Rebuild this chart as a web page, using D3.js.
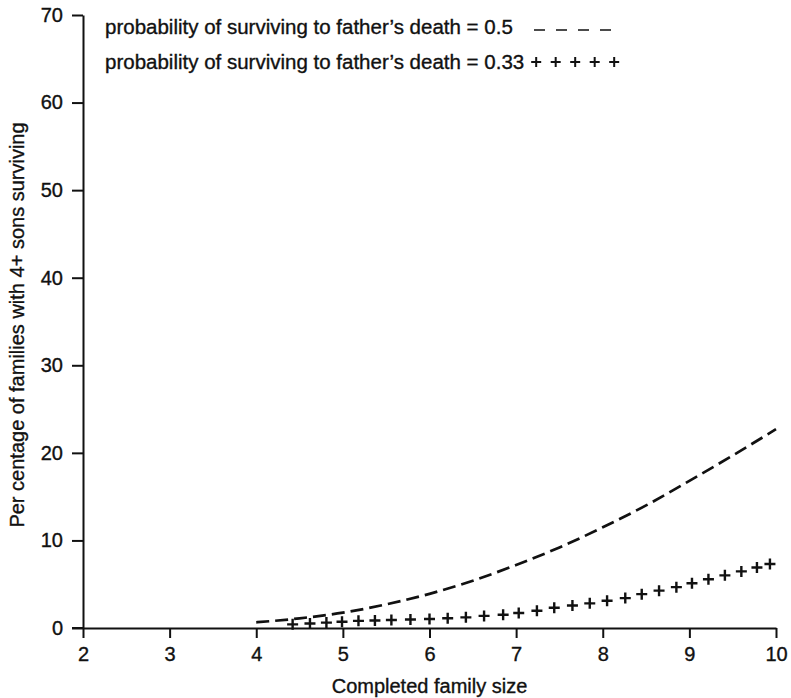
<!DOCTYPE html>
<html>
<head>
<meta charset="utf-8">
<script src="https://cdn.jsdelivr.net/npm/d3@7"></script>
<style>
  html, body { margin: 0; padding: 0; background: #fff; }
  svg text { font-family: "Liberation Sans", Arial, sans-serif; fill: #111; stroke: #111; stroke-width: 0.35px; }
</style>
</head>
<body>
<svg id="chart" width="791" height="698"></svg>
<script>
// Completed family size (x) for each series
const halfSizes = [4, 4.5, 5, 5.5, 6, 6.5, 7, 7.5, 8, 8.5, 9, 9.5, 10];
// Per cent of families with 4+ sons surviving, survival probability 0.5
const pctHalf = [0.65, 1.1, 1.75, 2.7, 3.9, 5.4, 7.2, 9.2, 11.5, 14.0, 16.8, 19.7, 22.7];

// Survival probability 0.33, plotted as '+' markers
const thirdSizes = [4.42, 4.62, 4.81, 4.99, 5.18, 5.37, 5.56, 5.78, 6.0, 6.21,
                    6.42, 6.63, 6.85, 7.03, 7.24, 7.44, 7.65, 7.85, 8.05, 8.26,
                    8.45, 8.65, 8.85, 9.03, 9.22, 9.41, 9.6, 9.78, 9.93];
const pctThird = [0.3, 0.4, 0.5, 0.6, 0.7, 0.75, 0.8, 0.85, 0.92, 1.0,
                  1.1, 1.27, 1.4, 1.6, 1.85, 2.2, 2.45, 2.7, 3.0, 3.3,
                  3.75, 4.15, 4.55, 5.0, 5.45, 5.9, 6.35, 6.8, 7.2];

const xTicks = [2, 3, 4, 5, 6, 7, 8, 9, 10];
const yTicks = [0, 10, 20, 30, 40, 50, 60, 70];

const legendLabels = [
  "probability of surviving to father\u2019s death = 0.5",
  "probability of surviving to father\u2019s death = 0.33"
];
const xTitle = "Completed family size";
const yTitle = "Per centage of families with 4+ sons surviving";

const svg = d3.select("#chart");
const plotLeft = 83, plotRight = 776, plotTop = 15, plotBottom = 628;

const x = d3.scaleLinear().domain([2, 10]).range([plotLeft, plotRight]);
const y = d3.scaleLinear().domain([0, 70]).range([plotBottom, plotTop]);

const ink = "#111";
const font = "Liberation Sans, Arial, sans-serif";

// y axis
const yAxis = svg.append("g")
  .attr("transform", `translate(${plotLeft},0)`)
  .call(d3.axisLeft(y).tickValues(yTicks).tickSize(11).tickPadding(9).tickSizeOuter(0));
yAxis.select(".domain").attr("stroke", ink).attr("stroke-width", 2);
yAxis.selectAll(".tick line").attr("stroke", ink).attr("stroke-width", 2);
yAxis.selectAll(".tick text")
  .attr("font-size", 20)
  .attr("font-family", font)
  .attr("fill", ink);

// x axis
const xAxis = svg.append("g")
  .attr("transform", `translate(0,${plotBottom})`)
  .call(d3.axisBottom(x).tickValues(xTicks).tickSize(10).tickPadding(9).tickSizeOuter(0));
xAxis.select(".domain").attr("stroke", ink).attr("stroke-width", 2);
xAxis.selectAll(".tick line").attr("stroke", ink).attr("stroke-width", 2);
xAxis.selectAll(".tick text")
  .attr("font-size", 20)
  .attr("font-family", font)
  .attr("fill", ink);

// zero line continues a little to the left of the y axis
svg.append("line")
  .attr("x1", plotLeft - 11).attr("x2", plotLeft)
  .attr("y1", y(0)).attr("y2", y(0))
  .attr("stroke", ink).attr("stroke-width", 2);

// axis titles
svg.append("text")
  .attr("x", (x(2) + x(10)) / 2)
  .attr("y", 693)
  .attr("text-anchor", "middle")
  .attr("font-size", 20)
  .text(xTitle);

svg.append("text")
  .attr("transform", `translate(24,325) rotate(-90)`)
  .attr("text-anchor", "middle")
  .attr("font-size", 20)
  .text(yTitle);

// dashed curve, probability 0.5
const line = d3.line()
  .x((d, i) => x(halfSizes[i]))
  .y(d => y(d))
  .curve(d3.curveMonotoneX);

svg.append("path")
  .datum(pctHalf)
  .attr("d", line)
  .attr("fill", "none")
  .attr("stroke", ink)
  .attr("stroke-width", 2.7)
  .attr("stroke-dasharray", "13,6");

// plus markers, probability 0.33
const plusPath = "M-5.5,0H5.5M0,-5.5V5.5";
svg.append("g")
  .selectAll("path")
  .data(pctThird)
  .join("path")
  .attr("transform", (d, i) => `translate(${x(thirdSizes[i])},${y(d) - 1})`)
  .attr("d", plusPath)
  .attr("fill", "none")
  .attr("stroke", ink)
  .attr("stroke-width", 2.4);

// legend
const legend = svg.append("g");
legend.append("text")
  .attr("x", 105).attr("y", 34)
  .attr("font-size", 20.5)
  .text(legendLabels[0]);
legend.append("line")
  .attr("x1", 534).attr("x2", 611)
  .attr("y1", 30).attr("y2", 30)
  .attr("stroke", ink).attr("stroke-width", 1.6)
  .attr("stroke-dasharray", "11,11");

const legend2 = legend.append("text")
  .attr("x", 105).attr("y", 69)
  .attr("font-size", 20.5)
  .text(legendLabels[1]);
const w2 = legend2.node().getComputedTextLength();
legend.append("g")
  .selectAll("path")
  .data(d3.range(5))
  .join("path")
  .attr("transform", d => `translate(${105 + w2 + 12 + d * 19.5},62)`)
  .attr("d", "M-5,0H5M0,-5V5")
  .attr("fill", "none")
  .attr("stroke", ink)
  .attr("stroke-width", 2);
</script>
</body>
</html>
